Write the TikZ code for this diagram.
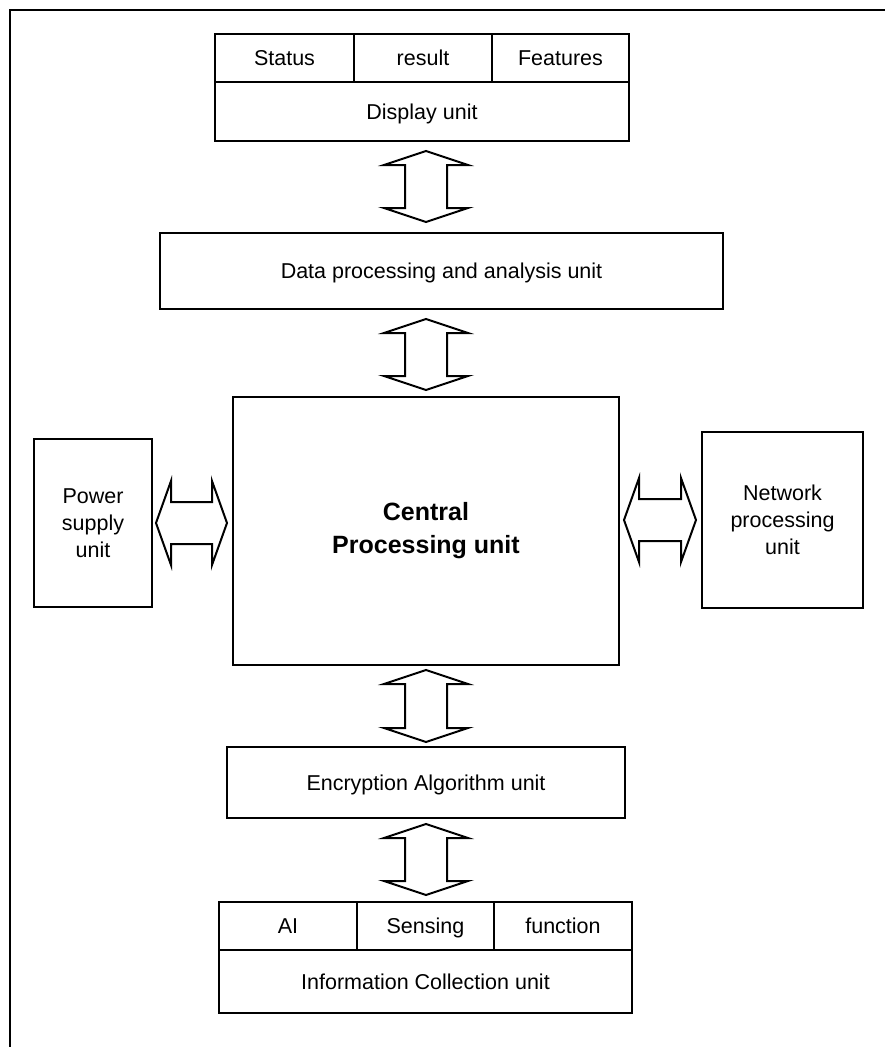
\documentclass[tikz,border=0pt]{standalone}
\usepackage{fontspec}
\setmainfont{Liberation Sans}
\usetikzlibrary{calc}
\tikzset{
  box/.style={draw, line width=2pt, inner sep=0pt, align=center, font=\fontsize{21.5}{27}\selectfont},
  onel/.style={text height=15.5pt, text depth=0pt},
  barrow/.style={draw, line width=2pt, fill=white, line join=miter},
  frame/.style={draw, line width=2.5pt}
}
\newcommand{\varrow}[4]{%
  \draw[barrow] let \p1=(#1), \p2=(#2) in
   (\x1,\y1-#3) -- (\x1+42pt,\y1-#3-14pt) -- (\x1+21pt,\y1-#3-14pt)
   -- (\x1+21pt,\y2+#4+14pt) -- (\x1+42pt,\y2+#4+14pt) -- (\x1,\y2+#4)
   -- (\x1-42pt,\y2+#4+14pt) -- (\x1-21pt,\y2+#4+14pt)
   -- (\x1-21pt,\y1-#3-14pt) -- (\x1-42pt,\y1-#3-14pt) -- cycle;}
\newcommand{\harrow}[4]{%
  \draw[barrow] let \p1=(#1), \p2=(#2) in
   (\x1+#3,\y1) -- (\x1+#3+15pt,\y1+42pt) -- (\x1+#3+15pt,\y1+21pt)
   -- (\x2-#4-15pt,\y1+21pt) -- (\x2-#4-15pt,\y1+42pt) -- (\x2-#4,\y1)
   -- (\x2-#4-15pt,\y1-42pt) -- (\x2-#4-15pt,\y1-21pt)
   -- (\x1+#3+15pt,\y1-21pt) -- (\x1+#3+15pt,\y1-42pt) -- cycle;}
\begin{document}
\begin{tikzpicture}[x=1pt,y=-1pt]
\useasboundingbox (0,0) rectangle (884,1047);
\path[frame] (10,10) rectangle (910,1080);
% display unit
\node[box, onel, minimum width=139pt, minimum height=48pt] (status) at (284.5,58) {Status};
\node[box, onel, minimum width=138pt, minimum height=48pt] (result) at (423,58) {result};
\node[box, onel, minimum width=137pt, minimum height=48pt] (features) at (560.5,58) {Features};
\node[box, onel, minimum width=414pt, minimum height=59pt] (display) at (422,111.5) {Display unit};
% data processing
\node[box, onel, minimum width=563pt, minimum height=76pt] (data) at (441.5,271) {Data processing and analysis unit};
% central
\node[box, minimum width=386pt, minimum height=268pt, font=\fontsize{25}{33}\selectfont\bfseries] (central) at (426,531) {Central\\Processing unit};
% side units
\node[box, minimum width=118pt, minimum height=168pt] (power) at (93,523) {Power\\supply\\unit};
\node[box, minimum width=161pt, minimum height=176pt] (network) at (782.5,520) {Network\\processing\\unit};
% encryption
\node[box, onel, minimum width=398pt, minimum height=71pt] (enc) at (426,782.5) {Encryption Algorithm unit};
% information collection
\node[box, onel, minimum width=138pt, minimum height=48pt] (ai) at (288,926) {AI};
\node[box, onel, minimum width=137pt, minimum height=48pt] (sensing) at (425.5,926) {Sensing};
\node[box, onel, minimum width=138pt, minimum height=48pt] (function) at (563,926) {function};
\node[box, onel, minimum width=413pt, minimum height=63pt] (info) at (425.5,981.5) {Information Collection unit};
% arrows
\varrow{display.south -| central.center}{data.north -| central.center}{9pt}{10pt}
\varrow{data.south -| central.center}{central.north}{9pt}{6pt}
\varrow{central.south}{enc.north}{4pt}{4pt}
\varrow{enc.south -| central.center}{sensing.north -| central.center}{5pt}{6pt}
\harrow{power.east}{central.west |- power.east}{3pt}{5pt}
\harrow{central.east |- network.west}{network.west}{4pt}{5pt}
\end{tikzpicture}
\end{document}
